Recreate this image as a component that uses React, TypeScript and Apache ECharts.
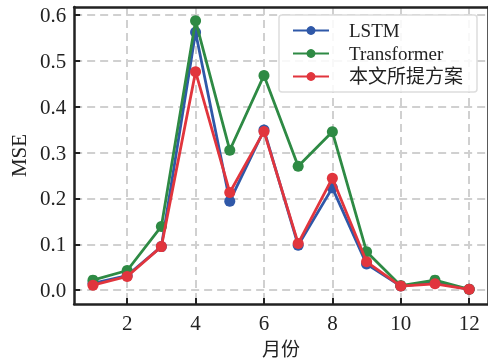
import React, { useEffect, useRef } from "react";
import * as echarts from "echarts";

const months = [1, 2, 3, 4, 5, 6, 7, 8, 9, 10, 11, 12];
const lstm = [0.015, 0.032, 0.095, 0.562, 0.194, 0.349, 0.098, 0.223, 0.057, 0.009, 0.017, 0.002];
const transformer = [0.022, 0.043, 0.139, 0.587, 0.305, 0.468, 0.27, 0.345, 0.084, 0.01, 0.022, 0.002];
const proposed = [0.011, 0.03, 0.095, 0.476, 0.213, 0.346, 0.102, 0.244, 0.062, 0.009, 0.014, 0.002];
const xTicks = [2, 4, 6, 8, 10, 12];
const yTicks = [0, 0.1, 0.2, 0.3, 0.4, 0.5, 0.6];
const seriesNames = ["LSTM", "Transformer", "本文所提方案"];

const FONT = "'Liberation Serif', 'Noto Sans CJK SC', serif";
const colors = ["#2f58a8", "#2e8a44", "#e1353d"];
const X_MIN = 0.45;
const X_MAX = 12.55;
const Y_MIN = -0.03;
const Y_MAX = 0.617;

export default function App() {
  const ref = useRef<HTMLDivElement>(null);
  useEffect(() => {
    const chart = echarts.init(ref.current!, null, { renderer: "svg" });
    const datasets = [lstm, transformer, proposed];
    const frameAxis = {
      type: "value",
      axisLine: { show: true, onZero: false, lineStyle: { color: "#222", width: 2.5 } },
      axisTick: { show: false },
      axisLabel: { show: false },
      splitLine: { show: false },
    };
    chart.setOption({
      animation: false,
      textStyle: { fontFamily: FONT },
      grid: { left: 71, right: 0, top: 7, bottom: 55 },
      legend: {
        data: seriesNames,
        orient: "vertical",
        right: 11,
        top: 15,
        itemWidth: 36,
        itemHeight: 11,
        itemGap: 4,
        padding: [6, 14, 6, 13],
        backgroundColor: "rgba(255,255,255,0.85)",
        borderColor: "#ddd",
        borderWidth: 1.5,
        borderRadius: 3,
        textStyle: { fontFamily: FONT, fontSize: 19, color: "#222", padding: [0, 0, 0, 15] },
      },
      xAxis: [
        {
          type: "value",
          min: X_MIN,
          max: X_MAX,
          name: "月份",
          nameLocation: "middle",
          nameGap: 36,
          nameTextStyle: { fontFamily: FONT, fontSize: 19, color: "#222" },
          axisLine: { show: true, onZero: false, lineStyle: { color: "#222", width: 2.5 } },
          axisTick: { show: true, inside: true, length: 6, lineStyle: { color: "#222", width: 2 }, customValues: xTicks },
          axisLabel: { fontFamily: FONT, fontSize: 21, color: "#222", margin: 9, customValues: xTicks },
          splitLine: { show: true, lineStyle: { color: "#d0d0d0", type: [8, 5], width: 2 } },
        },
        { ...frameAxis, position: "top", min: X_MIN, max: X_MAX },
      ],
      yAxis: [
        {
          type: "value",
          min: Y_MIN,
          max: Y_MAX,
          name: "MSE",
          nameLocation: "middle",
          nameGap: 40,
          nameTextStyle: { fontFamily: FONT, fontSize: 21, color: "#222" },
          axisLine: { show: true, onZero: false, lineStyle: { color: "#222", width: 2.5 } },
          axisTick: { show: true, inside: true, length: 6, lineStyle: { color: "#222", width: 2 }, customValues: yTicks },
          axisLabel: {
            fontFamily: FONT,
            fontSize: 21,
            color: "#222",
            margin: 8,
            customValues: yTicks,
            formatter: (v: number) => v.toFixed(1),
          },
          splitLine: { show: true, lineStyle: { color: "#d0d0d0", type: [8, 5], width: 2 } },
        },
        { ...frameAxis, position: "right", min: Y_MIN, max: Y_MAX },
      ],
      series: datasets.map((d, i) => ({
        name: seriesNames[i],
        type: "line",
        data: months.map((m, j) => [m, d[j]]),
        symbol: "circle",
        symbolSize: 11,
        color: colors[i],
        lineStyle: { width: 2.8, color: colors[i] },
        itemStyle: { color: colors[i] },
        z: 3 + i,
      })),
    });
    return () => chart.dispose();
  }, []);
  return <div ref={ref} style={{ position: "fixed", left: 0, top: 0, width: 488, height: 364 }} />;
}
